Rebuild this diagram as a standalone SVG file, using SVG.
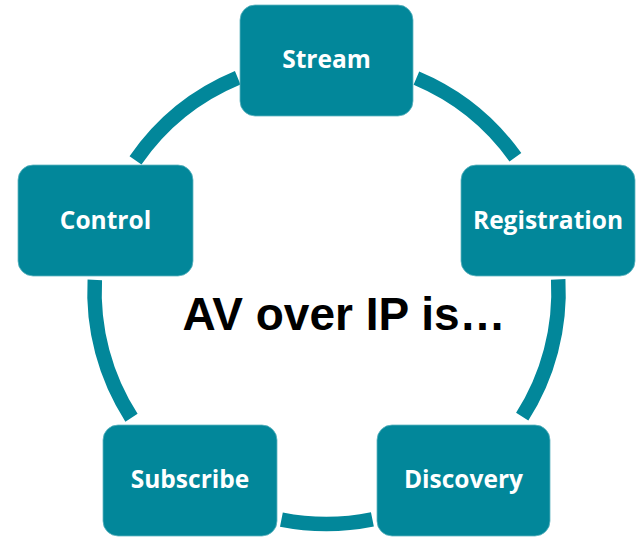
<svg xmlns="http://www.w3.org/2000/svg" width="640" height="537" viewBox="0 0 640 537">
<style>
.arc{fill:none;stroke:#02879A;stroke-width:14.5;stroke-linecap:butt}
.box{fill:#02879A;stroke:#5FB5C0;stroke-width:0.8}
.lbl{font-family:"Open Sans","Noto Sans","Liberation Sans",sans-serif;font-weight:bold;font-size:24.5px;fill:#FFFFFF;text-anchor:middle}
.title{font-family:"Liberation Sans",Arial,sans-serif;font-weight:bold;font-size:46px;fill:#000000;text-anchor:middle}
</style>
<rect width="640" height="537" fill="#FFFFFF"/>
<g id="connectors">
<path class="arc" d="M416.4,78.1 A232,232 0 0 1 515.4,157.3"/>
<path class="arc" d="M558.2,279.4 A232,232 0 0 1 522.2,416.7"/>
<path class="arc" d="M372.4,519.4 A232,232 0 0 1 281.4,519.6"/>
<path class="arc" d="M131.5,417.7 A232,232 0 0 1 94.8,279.9"/>
<path class="arc" d="M135.5,160.3 A232,232 0 0 1 237.7,77.7"/>
</g>
<g id="stream">
<rect class="box" x="240" y="5" width="173" height="111" rx="15"/>
<text class="lbl" x="326.5" y="68">Stream</text>
</g>
<g id="registration">
<rect class="box" x="461" y="165" width="174" height="111" rx="15"/>
<text class="lbl" x="548" y="228.5">Registration</text>
</g>
<g id="discovery">
<rect class="box" x="377" y="425" width="173" height="111" rx="15"/>
<text class="lbl" x="463.5" y="488">Discovery</text>
</g>
<g id="subscribe">
<rect class="box" x="103" y="425" width="174" height="111" rx="15"/>
<text class="lbl" x="190" y="488">Subscribe</text>
</g>
<g id="control">
<rect class="box" x="18" y="165" width="175" height="111" rx="15"/>
<text class="lbl" x="105.5" y="228.5">Control</text>
</g>
<g id="title">
<text class="title" x="344" y="329.5">AV over IP is…</text>
</g>
</svg>
